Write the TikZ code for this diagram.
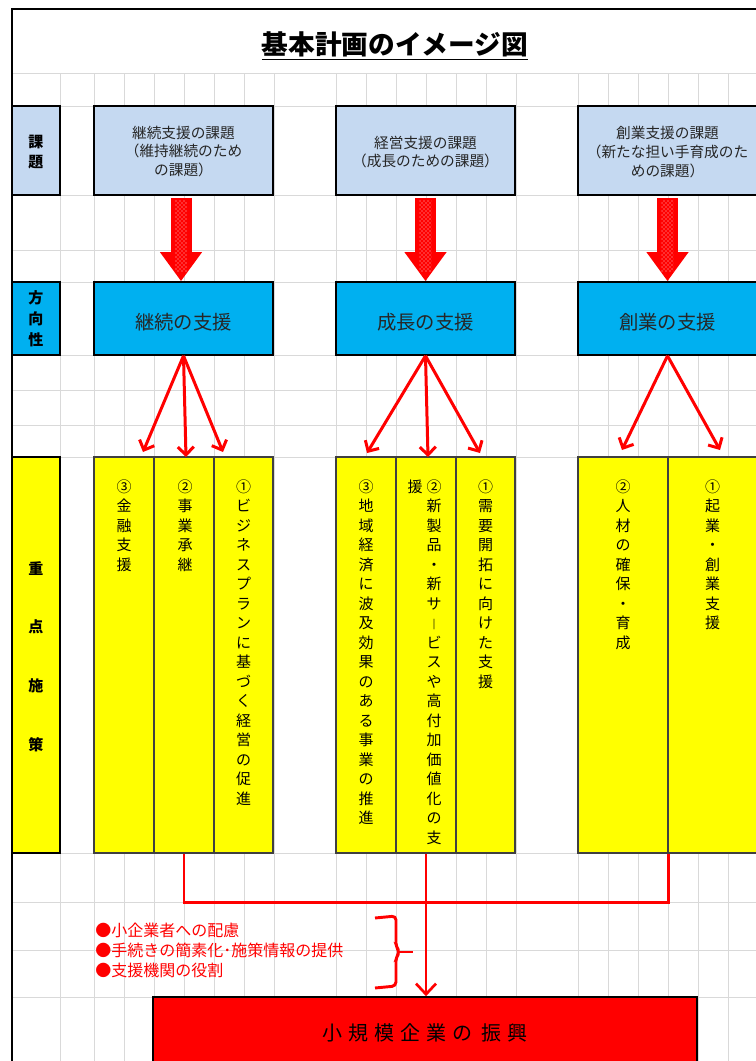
\documentclass[tikz,border=0pt]{standalone}
\usepackage{fontspec}
\setmainfont{Noto Sans CJK JP}
\usetikzlibrary{arrows.meta,patterns,fit,calc}
\definecolor{kblue}{HTML}{C5D9F1}
\definecolor{hblue}{HTML}{00B0F0}
\definecolor{ylw}{HTML}{FFFF00}
\definecolor{rd}{HTML}{FF0000}
\definecolor{gridc}{HTML}{D9D9D9}
\newcommand\lsk{\kern4.5pt}
\begin{document}
\begin{tikzpicture}[x=0.75pt,y=-0.75pt,
  kbox/.style={draw=black, line width=1.2pt, fill=kblue, inner sep=0pt},
  hbox/.style={draw=black, line width=1.2pt, fill=hblue, inner sep=0pt},
  ktxt/.style={inner sep=0pt, align=center, text=black!85, font=\fontsize{11pt}{14pt}\selectfont},
  htxt/.style={inner sep=0pt, text=black!85, font=\fontsize{14.5pt}{16pt}\selectfont},
  ybox/.style={draw=black!75, line width=0.8pt, fill=ylw, inner sep=0pt},
  lbl/.style={draw=black, line width=1.5pt, inner sep=0pt},
  ltxt/.style={inner sep=0pt, align=center},
  vtxt/.style={anchor=north, inner sep=0pt, align=center, font=\fontsize{11.25pt}{14.625pt}\selectfont},
  fan/.style={draw=rd, line width=2.25pt, -{Straight Barb[length=6pt,width=12pt]}},
  link/.style={draw=rd, line width=2pt},
  bigarrow/.style={draw=rd, line width=15.75pt, -{Triangle[length=21.75pt,width=30pt]}},
  dotfill/.style={pattern=crosshatch dots, pattern color=white!80!red},
]
\useasboundingbox (0,0) rectangle (756,1061);
\fill[white] (0,0) rectangle (756,1061);
\begin{scope}
\clip (0,0) rectangle (756,1061);
% grid
\foreach \gx in {60,94,124,154,184,214,244,274,336,366,396,426,456,486,516,578,608,638,668,698,728}
  \draw[gridc, line width=0.7pt] (\gx,73) -- (\gx,1061);
\foreach \gy in {73,106,195,250,282,355,390,425,457,853,902,950,997}
  \draw[gridc, line width=0.7pt] (12,\gy) -- (756,\gy);

% left labels
\node[lbl, fill=kblue, fit={(12,106) (60,195)}] (L1) {};
\node[ltxt, font=\bfseries\fontsize{11.25pt}{15pt}\selectfont] (L1t) at ($(L1.center)+(0,1.5)$) {課\\題};
\node[lbl, fill=hblue, fit={(12,282) (60,355)}] (L2) {};
\node[ltxt, font=\bfseries\fontsize{11.25pt}{15.75pt}\selectfont] (L2t) at ($(L2.center)+(0,0.5)$) {方\\向\\性};
\node[lbl, fill=ylw, fit={(12,457) (60,853)}] (L3) {};
\node[ltxt, font=\bfseries\fontsize{11.25pt}{44pt}\selectfont] (L3t) at ($(L3.center)+(0,1.5)$) {重\\点\\施\\策};

% kadai boxes
\node[kbox, fit={(94,106) (273,195)}] (k1) {};
\node[kbox, fit={(336,106) (515,195)}] (k2) {};
\node[kbox, fit={(578,106) (757,195)}] (k3) {};
\node[ktxt] (k1t) at ($(k1.center)+(0,1)$) {継続支援の課題\\（維持継続のため\\の課題）};
\node[ktxt] (k2t) at ($(k2.center)+(0,1.5)$) {経営支援の課題\\（成長のための課題）};
\node[ktxt] (k3t) at ($(k3.center)+(0,1.5)$) {創業支援の課題\\（新たな担い手育成のた\\めの課題）};

% houkousei boxes
\node[hbox, fit={(94,282) (273,355)}] (h1) {};
\node[hbox, fit={(336,282) (515,355)}] (h2) {};
\node[hbox, fit={(578,282) (757,355)}] (h3) {};
\node[htxt] (h1t) at ($(h1.center)+(0,3.5)$) {継続の支援};
\node[htxt] (h2t) at ($(h2.center)+(0,3.5)$) {成長の支援};
\node[htxt] (h3t) at ($(h3.center)+(0,3.5)$) {創業の支援};

% block arrows
\draw[bigarrow] ($(k1.south)+(-2.5,2)$) -- ($(h1.north)+(-2.5,0)$);
\draw[bigarrow] ($(k2.south)+(0,2)$) -- (h2.north);
\draw[bigarrow] ($(k3.south)+(0,2)$) -- (h3.north);
\fill[dotfill] ($(k1.south)+(-8.5,5)$) rectangle ($(h1.north)+(3.5,-10)$);
\fill[dotfill] ($(k2.south)+(-6,5)$) rectangle ($(h2.north)+(6,-10)$);
\fill[dotfill] ($(k3.south)+(-6,5)$) rectangle ($(h3.north)+(6,-10)$);

% yellow columns
\node[ybox, fit={(94,457) (154,853)}] (y11) {};
\node[ybox, fit={(154,457) (214,853)}] (y12) {};
\node[ybox, fit={(214,457) (273,853)}] (y13) {};
\node[ybox, fit={(336,457) (396,853)}] (y21) {};
\node[ybox, fit={(396,457) (456,853)}] (y22) {};
\node[ybox, fit={(456,457) (515,853)}] (y23) {};
\node[ybox, fit={(578,457) (668,853)}] (y31) {};
\node[ybox, fit={(668,457) (757,853)}] (y32) {};

% column texts
\node[vtxt] (t11) at ($(y11.north)+(0,23)$) {③\\金\\融\\支\\援};
\node[vtxt] (t12) at ($(y12.north)+(1,23)$) {②\\事\\業\\承\\継};
\node[vtxt] (t13) at ($(y13.north)+(0,23)$) {①\\ビ\\ジ\\ネ\\ス\\プ\\ラ\\ン\\に\\基\\づ\\く\\経\\営\\の\\促\\進};
\node[vtxt] (t21) at ($(y21.north)+(0,23)$) {③\\地\\域\\経\\済\\に\\波\\及\\効\\果\\の\\あ\\る\\事\\業\\の\\推\\進};
\node[vtxt] (t22) at ($(y22.north)+(8,23)$) {②\\新\\製\\品\\・\\新\\サ\\{\scalebox{1}[0.7]{｜}}\\ビ\\ス\\や\\高\\付\\加\\価\\値\\化\\の\\支};
\node[vtxt] (t22b) at ($(y22.north)+(-11,23)$) {援};
\node[vtxt] (t23) at ($(y23.north)+(0,23)$) {①\\需\\要\\開\\拓\\に\\向\\け\\た\\支\\援};
\node[vtxt] (t31) at ($(y31.north)+(0,23)$) {②\\人\\材\\の\\確\\保\\・\\育\\成};
\node[vtxt] (t32) at ($(y32.north)+(0,23)$) {①\\起\\業\\・\\創\\業\\支\\援};

% fan arrows
\coordinate (a11) at (143,452);
\coordinate (a12) at (186,457);
\coordinate (a13) at (223,452);
\coordinate (a21) at (367,453);
\coordinate (a22) at (428,457);
\coordinate (a23) at (480,453);
\coordinate (a31) at (622,450);
\coordinate (a32) at (720,450);
\draw[fan] (h1.south) -- (a11);
\draw[fan] (h1.south) -- (a12);
\draw[fan] (h1.south) -- (a13);
\draw[fan] (h2.south) -- (a21);
\draw[fan] (h2.south) -- (a22);
\draw[fan] (h2.south) -- (a23);
\draw[fan] (h3.south) -- (a31);
\draw[fan] (h3.south) -- (a32);

% goal box
\node[draw=black, line width=1.2pt, fill=rd, inner sep=0pt, fit={(153,997) (697,1069)}] (G) {};
\node[inner sep=0pt, font=\fontsize{15pt}{16pt}\selectfont] (Gt) at (G.center) {小\lsk 規\lsk 模\lsk 企\lsk 業\lsk の\lsk\kern2pt 振\lsk 興};

% bottom connectors
\draw[link] (y12.south) -- ++(0,49) -| (y31.south east);
\draw[link, -{Straight Barb[length=8pt,width=15pt]}] (y22.south) -- (y22.south |- G.north);

% brace and notes
\draw[rd, line width=2.2pt, rounded corners=3pt] (375,918) -- (396,916) -- (396,947) -- (400,952) -- (396,957) -- (396,986) -- (375,988);
\draw[rd, line width=2.2pt] (399,952) -- (413,952);
\node[anchor=north west, align=left, text=rd, inner sep=0pt, font=\fontsize{12pt}{15pt}\selectfont] (B) at (95,923)
  {●小企業者への配慮\\●手続きの簡素化･施策情報の提供\\●支援機関の役割};

% title
\node[font=\bfseries\fontsize{20pt}{24pt}\selectfont, inner sep=0pt] (T) at (395,46) {\underline{基本計画のイメージ図}};

% outer border
\draw[black, line width=1.5pt] (12,1061) -- (12,9) -- (756,9);
\end{scope}
\end{tikzpicture}
\end{document}
